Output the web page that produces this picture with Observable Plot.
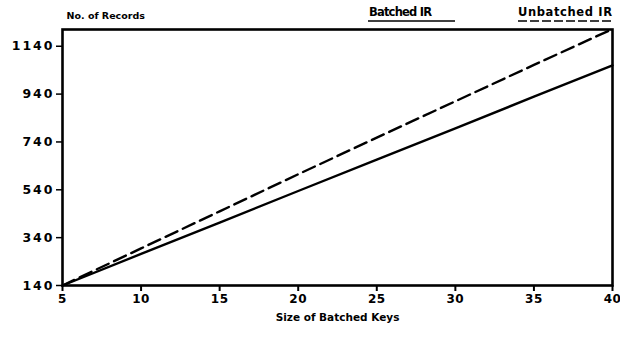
<!DOCTYPE html>
<html><head><meta charset="utf-8">
<script src="https://cdn.jsdelivr.net/npm/d3@7"></script>
<script src="https://cdn.jsdelivr.net/npm/@observablehq/plot@0.6"></script>
<style>
body{margin:0;background:#fff;}
svg{font-family:"DejaVu Sans",sans-serif;font-weight:bold;}
g[aria-label="y-axis tick label"] text{letter-spacing:2px;}
g[aria-label="x-axis tick label"] text{letter-spacing:0.5px;}
</style></head>
<body><div id="chart"></div>
<script>
const keys = [5, 10, 15, 20, 25, 30, 35, 40];
const batchedIR = [140, 272, 403, 535, 666, 797, 929, 1060];
const unbatchedIR = [140, 295, 450, 605, 758, 910, 1062, 1212];
const yTicks = [140, 340, 540, 740, 940, 1140];
const xTicks = [5, 10, 15, 20, 25, 30, 35, 40];
const seriesNames = ["Batched IR", "Unbatched IR"];

const rows = [];
keys.forEach((k, i) => {
  rows.push({k, v: batchedIR[i], s: seriesNames[0]});
  rows.push({k, v: unbatchedIR[i], s: seriesNames[1]});
});

const chart = Plot.plot({
  width: 620, height: 337,
  marginLeft: 62, marginRight: 8, marginTop: 29, marginBottom: 52,
  style: {fontFamily: "DejaVu Sans, sans-serif", fontWeight: "bold", background: "#fff"},
  x: {domain: [5, 40], ticks: xTicks, label: null},
  y: {domain: [140, 1210], ticks: yTicks, label: null},
  marks: [
    Plot.axisY({ticks: yTicks, tickFormat: d => String(d), tickSize: 6, tickPadding: 2, fontSize: 12.5, strokeWidth: 1.5, stroke: "#000", fill: "#000"}),
    Plot.axisX({ticks: xTicks, tickFormat: d => String(d), tickSize: 6, tickPadding: 3, fontSize: 12, strokeWidth: 2, stroke: "#000", fill: "#000"}),
    Plot.frame({stroke: "#000", strokeWidth: 2.6}),
    Plot.line(rows.filter(d => d.s === seriesNames[0]), {x: "k", y: "v", stroke: "#000", strokeWidth: 2.4}),
    Plot.line(rows.filter(d => d.s === seriesNames[1]), {x: "k", y: "v", stroke: "#000", strokeWidth: 2.4, strokeDasharray: "13,6"}),
    Plot.text(["No. of Records"], {frameAnchor: "top-left", dx: 4, dy: -17, fontSize: 9.5, fill: "#000", textAnchor: "start"}),
    Plot.text(["Size of Batched Keys"], {frameAnchor: "bottom", dy: 35, fontSize: 10.5, fill: "#000"})
  ]
});
document.getElementById("chart").appendChild(chart);

// legend in the top margin
const svg = d3.select(chart);
const lg = svg.append("g").attr("font-size", 11.5).attr("font-weight", "bold").attr("fill", "#000").attr("text-anchor", "start");
const items = [{name: seriesNames[0], x: 369, x1: 368, x2: 455, dash: null}, {name: seriesNames[1], x: 518, x1: 518, x2: 612, dash: "9,3"}];
items.forEach(it => {
  lg.append("text").attr("x", it.x).attr("y", 16).attr("textLength", it.name === seriesNames[0] ? 63 : 94).text(it.name);
  lg.append("line").attr("x1", it.x1).attr("x2", it.x2).attr("y1", 21).attr("y2", 21)
    .attr("stroke", "#000").attr("stroke-width", 1.6).attr("stroke-dasharray", it.dash);
});
</script></body></html>
